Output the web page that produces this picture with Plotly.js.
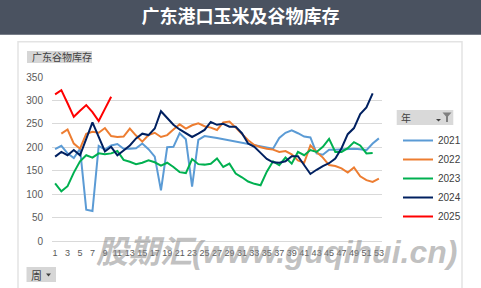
<!DOCTYPE html>
<html>
<head>
<meta charset="utf-8">
<script src="https://cdn.plot.ly/plotly-3.0.1.min.js"></script>
<style>html,body{margin:0;padding:0;background:#fff;}#chart{width:481px;height:288px;}</style>
</head>
<body>
<div id="chart"></div>
<script>
const weeks = [1,2,3,4,5,6,7,8,9,10,11,12,13,14,15,16,17,18,19,20,21,22,23,24,25,26,27,28,29,30,31,32,33,34,35,36,37,38,39,40,41,42,43,44,45,46,47,48,49,50,51,52,53];
const tickWeeks = [1,3,5,7,9,11,13,15,17,19,21,23,25,27,29,31,33,35,37,39,41,43,45,47,49,51,53];
const tickLabels = ["1","3","5","7","9","11","13","15","17","19","21","23","25","27","29","31","33","35","37","39","41","43","45","47","49","51","53"];
const seriesNames = ["2021","2022","2023","2024","2025"];
const y2021 = [196,203,187,177,197,67,64,203,195,204,207,197,197,198,208,196,180,108,200,201,230,217,116,216,224,222,220,null,null,null,null,null,null,null,null,197,220,231,236,230,223,221,187,184,195,195,196,197,197,196,194,208,219];
const y2022 = [null,229,238,208,197,229,233,231,241,224,222,223,240,225,212,226,231,222,226,238,249,240,247,251,245,242,237,253,255,242,229,215,205,200,197,195,190,192,185,172,167,204,190,178,162,160,155,146,157,138,130,126,133];
const y2023 = [123,106,117,146,170,183,178,187,185,187,192,173,169,164,167,172,168,161,167,158,147,145,175,164,163,165,176,158,165,144,136,127,122,119,148,170,162,178,165,190,183,194,190,201,218,190,190,198,211,204,187,188,null];
const y2024 = [180,190,183,194,183,218,253,222,191,201,183,193,204,219,229,226,240,277,262,248,238,230,222,229,237,254,248,250,244,244,230,208,201,188,175,168,167,170,181,181,163,143,152,160,166,176,198,228,241,271,285,315,null];
const y2025 = [313,322,294,265,278,290,275,256,282,308];
const colors = ["#5b9bd5","#ed7d31","#00b050","#002060","#ff0000"];
const seriesData = [y2021,y2022,y2023,y2024,y2025];

const W = 481, H = 288;
const M = {l:52, r:99, t:77, b:47};
const PW = W - M.l - M.r, PH = H - M.t - M.b;
const px = x => (x - M.l) / PW;
const py = y => (H - M.b - y) / PH;

const traces = seriesNames.map((n,i) => ({
  type:'scatter', mode:'lines', name:n,
  x: weeks.slice(0, seriesData[i].length), y: seriesData[i],
  connectgaps: true,
  line:{color:colors[i], width:2},
  legendgroup:n
}));

const shapes = [
  {type:'rect', xref:'paper', yref:'paper', x0:px(0), x1:px(W), y0:py(0), y1:py(34.7), fillcolor:'#4a5260', line:{width:0}, layer:'below'},
  {type:'rect', xref:'paper', yref:'paper', x0:px(18), x1:px(462), y0:py(41.7), y1:py(300), fillcolor:'rgba(0,0,0,0)', line:{color:'#e3e3e3', width:1.5}, layer:'below'},
  {type:'rect', xref:'paper', yref:'paper', x0:px(27), x1:px(92), y0:py(51), y1:py(63), fillcolor:'#d6d6d6', line:{width:0}, layer:'below'},
  {type:'rect', xref:'paper', yref:'paper', x0:px(26.5), x1:px(56), y0:py(267), y1:py(282), fillcolor:'#d6d6d6', line:{width:0}, layer:'below'},
  {type:'path', xref:'paper', yref:'paper', path:`M ${px(46)} ${py(273.5)} L ${px(51)} ${py(273.5)} L ${px(48.5)} ${py(276.5)} Z`, fillcolor:'#404040', line:{width:0}},
  {type:'rect', xref:'paper', yref:'paper', x0:px(396.7), x1:px(453.3), y0:py(110), y1:py(125), fillcolor:'#d9d9d9', line:{width:0}, layer:'below'},
  {type:'path', xref:'paper', yref:'paper', path:`M ${px(436)} ${py(119)} L ${px(441)} ${py(119)} L ${px(438.5)} ${py(121.5)} Z`, fillcolor:'#404040', line:{width:0}},
  {type:'path', xref:'paper', yref:'paper', path:`M ${px(442.5)} ${py(112.5)} L ${px(451.5)} ${py(112.5)} L ${px(448)} ${py(116.5)} L ${px(448)} ${py(122)} L ${px(446)} ${py(122)} L ${px(446)} ${py(116.5)} Z`, fillcolor:'#7f7f7f', line:{width:0}}
];

const annotations = [
  {xref:'paper', yref:'paper', x:px(30), y:py(57), xanchor:'left', yanchor:'middle', text:'广东谷物库存', showarrow:false, font:{family:'Noto Sans CJK SC', size:10, color:'#404040'}},
  {xref:'paper', yref:'paper', x:px(29), y:py(274.5), xanchor:'left', yanchor:'middle', text:'周', showarrow:false, font:{family:'Noto Sans CJK SC', size:11, color:'#404040'}},
  {xref:'paper', yref:'paper', x:px(399), y:py(117.5), xanchor:'left', yanchor:'middle', text:'年', showarrow:false, font:{family:'Noto Sans CJK SC', size:10, color:'#404040'}},
  {xref:'paper', yref:'paper', x:px(276), y:py(252), xanchor:'center', yanchor:'middle', text:'<b><i>股期汇(www.guqihui.cn)</i></b>', showarrow:false, font:{family:'Liberation Sans, Noto Sans CJK SC', size:32, color:'rgba(140,140,140,0.55)'}}
];

const layout = {
  width:W, height:H,
  margin:M,
  paper_bgcolor:'#ffffff', plot_bgcolor:'#ffffff',
  font:{family:'Liberation Sans, Noto Sans CJK SC', size:10, color:'#595959'},
  title:{text:'广东港口玉米及谷物库存', x:0.5, xref:'container', y:1-17/H, yref:'container', xanchor:'center', yanchor:'middle', font:{family:'Noto Sans CJK SC', size:18, color:'#ffffff', weight:'bold'}},
  xaxis:{type:'linear', range:[0.5,53.5], tickmode:'array', tickvals:tickWeeks, ticktext:tickLabels, tickangle:0, showgrid:false, zeroline:false, showline:false, ticks:'', tickfont:{family:'Liberation Sans', size:9, color:'#595959'}, ticklabelstandoff:5},
  yaxis:{range:[0,350], dtick:50, tick0:0, showgrid:true, gridcolor:'#d9d9d9', gridwidth:1, zeroline:true, zerolinecolor:'#d9d9d9', zerolinewidth:1, showline:false, ticks:'', tickfont:{size:10, color:'#595959'}, ticklabelstandoff:8},
  showlegend:true,
  legend:{x:px(398), y:py(126), xanchor:'left', yanchor:'top', bgcolor:'rgba(0,0,0,0)', borderwidth:0, font:{size:10, color:'#404040'}, traceorder:'normal', itemwidth:30},
  shapes:shapes,
  annotations:annotations
};

Plotly.newPlot('chart', traces, layout, {staticPlot:true, displayModeBar:false});
</script>
</body>
</html>
